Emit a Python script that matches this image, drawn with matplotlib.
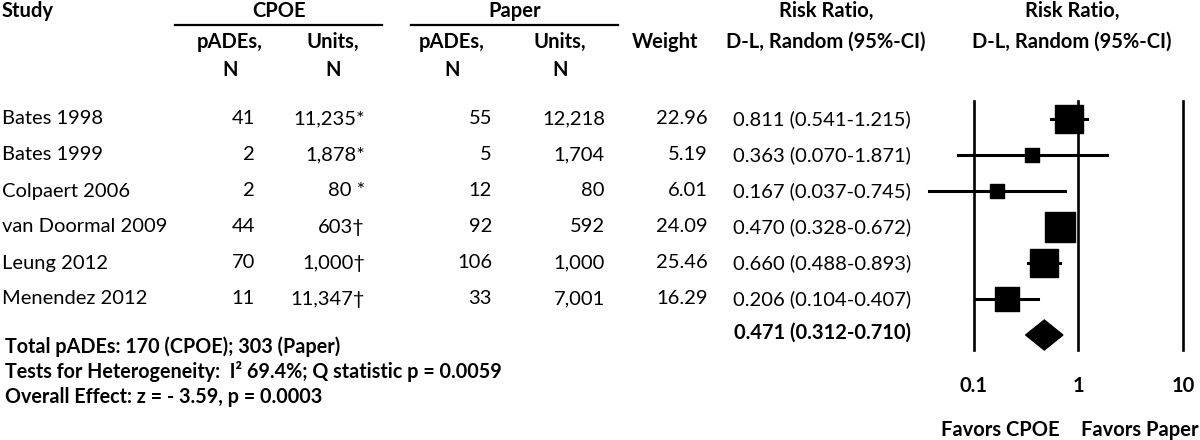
import numpy as np
import matplotlib
matplotlib.use("Agg")
import matplotlib.pyplot as plt
from matplotlib.patches import Polygon

plt.rcParams['font.family'] = ['Lato', 'DejaVu Sans']

# data
studies = ['Bates 1998', 'Bates 1999', 'Colpaert 2006', 'van Doormal 2009', 'Leung 2012', 'Menendez 2012']
cpoe_pades = ['41', '2', '2', '44', '70', '11']
cpoe_units = ['11,235*', '1,878*', '80 *', '603\u2020', '1,000\u2020', '11,347\u2020']
paper_pades = ['55', '5', '12', '92', '106', '33']
paper_units = ['12,218', '1,704', '80', '592', '1,000', '7,001']
weights = [22.96, 5.19, 6.01, 24.09, 25.46, 16.29]
rr = [0.811, 0.363, 0.167, 0.470, 0.660, 0.206]
lo = [0.541, 0.070, 0.037, 0.328, 0.488, 0.104]
hi = [1.215, 1.871, 0.745, 0.672, 0.893, 0.407]
tot_rr, tot_lo, tot_hi = 0.471, 0.312, 0.710
ticks = [0.1, 1, 10]
# the original graphic draws rows 4 and 5 the other way round
plot_order = [0, 1, 2, 4, 3, 5]

fig = plt.figure(figsize=(12, 4.4), dpi=100)

# table area, pixel-like coordinates
tab = fig.add_axes([0, 0, 1, 1])
tab.set_xlim(0, 1200)
tab.set_ylim(440, 0)
tab.axis('off')

fs = 14.5
y0, dy = 119, 36
rows = y0 + dy * np.arange(len(studies))

hdr = dict(fontsize=fs, fontweight='bold', ha='center', va='center')
tab.text(2, 11, 'Study', fontsize=fs, fontweight='bold', ha='left', va='center')
tab.text(279, 11, 'CPOE', **hdr)
tab.text(515, 11, 'Paper', **hdr)
tab.plot([175, 382], [25, 25], color='black', lw=1.6)
tab.plot([411, 618], [25, 25], color='black', lw=1.6)
for xc in [230, 333, 452, 560]:
    tab.text(xc, 42, 'pADEs,' if xc in (230, 452) else 'Units,', **hdr)
    tab.text(xc, 70, 'N', **hdr)
tab.text(665, 42, 'Weight', **hdr)
tab.text(826, 11, 'Risk Ratio,', **hdr)
tab.text(826, 42, 'D-L, Random (95%-CI)', **hdr)
tab.text(1072, 11, 'Risk Ratio,', **hdr)
tab.text(1072, 42, 'D-L, Random (95%-CI)', **hdr)

for i, y in enumerate(rows):
    tab.text(2, y, studies[i], fontsize=fs, ha='left', va='center')
    tab.text(255, y, cpoe_pades[i], fontsize=fs, ha='right', va='center')
    tab.text(365, y, cpoe_units[i], fontsize=fs, ha='right', va='center')
    tab.text(492, y, paper_pades[i], fontsize=fs, ha='right', va='center')
    tab.text(605, y, paper_units[i], fontsize=fs, ha='right', va='center')
    tab.text(708, y, '%.2f' % weights[i], fontsize=fs, ha='right', va='center')
    tab.text(911, y, '%.3f (%.3f-%.3f)' % (rr[i], lo[i], hi[i]), fontsize=fs, ha='right', va='center')

ytot = y0 + dy * len(studies)
tab.text(911, ytot - 2, '%.3f (%.3f-%.3f)' % (tot_rr, tot_lo, tot_hi), fontsize=fs,
         fontweight='bold', ha='right', va='center')

foot = dict(fontsize=14.2, fontweight='bold', ha='left', va='center')
tab.text(5, 347, 'Total pADEs: 170 (CPOE); 303 (Paper)', **foot)
tab.text(5, 372, 'Tests for Heterogeneity:  I\u00b2 69.4%; Q statistic p = 0.0059', **foot)
tab.text(5, 397, 'Overall Effect: z = - 3.59, p = 0.0003', **foot)

# forest plot
ax = fig.add_axes([0.75, 0, 0.25, 1])
ax.set_xscale('log')
ax.set_xlim(10 ** -1.708, 10 ** 1.163)
ax.set_ylim(440, 0)
ax.axis('off')

for t in ticks:
    ax.plot([t, t], [101, 350], color='black', lw=1.9, zorder=1)
    ax.text(t, 386, '%g' % t, fontsize=fs, fontweight='bold', ha='center', va='center')

for y, k in zip(rows, plot_order):
    ax.plot([lo[k], hi[k]], [y, y], color='black', lw=2.2, zorder=2)
    ax.scatter([rr[k]], [y], marker='s', s=17.7 * weights[k], color='black', zorder=3)

dia = Polygon([(tot_lo, ytot), (tot_rr, ytot - 15), (tot_hi, ytot), (tot_rr, ytot + 15)],
              closed=True, color='black', zorder=3)
ax.add_patch(dia)

tab.text(1000, 430, 'Favors CPOE', fontsize=fs, fontweight='bold', ha='center', va='center')
tab.text(1140, 430, 'Favors Paper', fontsize=fs, fontweight='bold', ha='center', va='center')

fig.savefig('out.png', dpi=100)
